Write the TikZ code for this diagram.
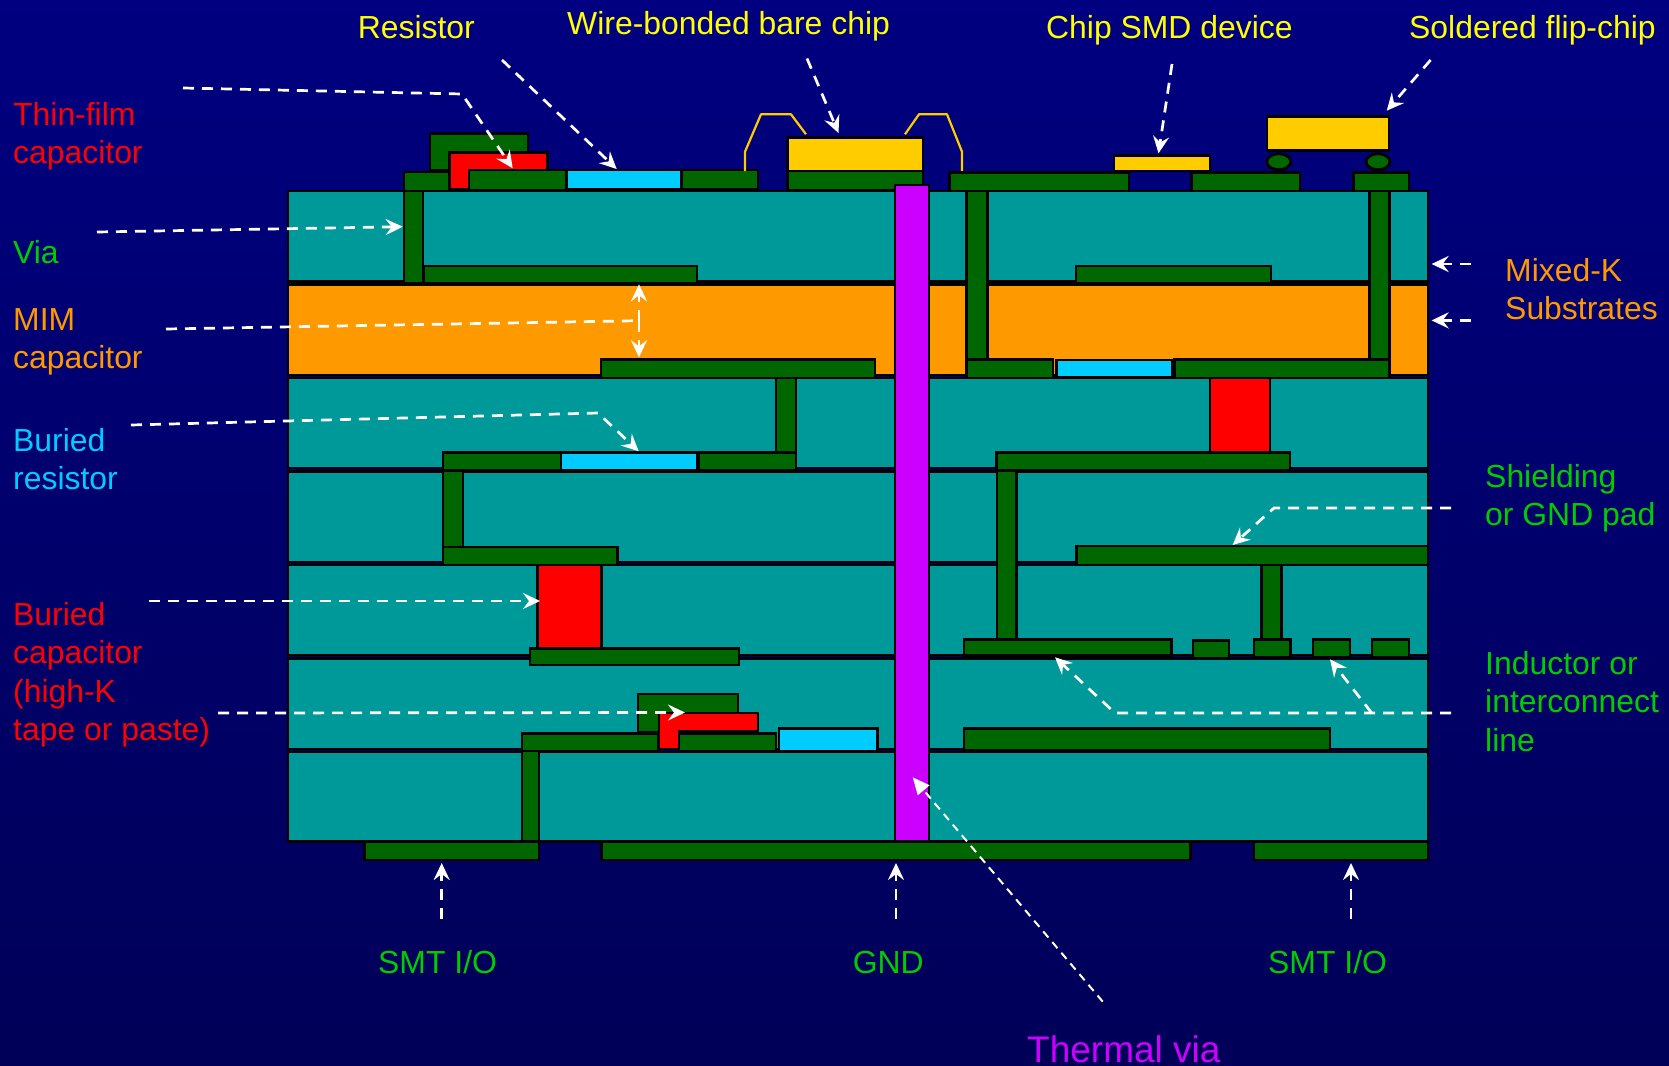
\documentclass[tikz,border=0pt]{standalone}
\usepackage{fontspec}
\setmainfont{Liberation Sans}
\usetikzlibrary{arrows.meta}
\definecolor{bgtop}{RGB}{0,0,128}
\definecolor{bgbot}{RGB}{0,0,88}
\definecolor{tealc}{RGB}{0,153,153}
\definecolor{orangec}{RGB}{255,153,0}
\definecolor{padc}{RGB}{0,102,0}
\definecolor{cyanc}{RGB}{0,204,255}
\definecolor{yellowc}{RGB}{255,204,0}
\definecolor{purplec}{RGB}{204,0,255}
\definecolor{labyellow}{RGB}{255,255,0}
\definecolor{labgreen}{RGB}{0,204,0}
\definecolor{labcyan}{RGB}{0,204,255}
\definecolor{labpurple}{RGB}{204,0,255}
\tikzset{
  part/.style={draw=black,line width=2.8pt,line join=miter},
  teallayer/.style={part,fill=tealc},
  orangelayer/.style={part,fill=orangec},
  pad/.style={part,fill=padc},
  redpart/.style={part,fill=red},
  cyanpart/.style={part,fill=cyanc},
  chip/.style={part,fill=yellowc},
  thermal/.style={part,fill=purplec},
  wirebond/.style={draw=yellowc,line width=2.2pt,line join=round},
  leader/.style={draw=white,line width=2.7pt,dash pattern=on 11pt off 8pt,
    -{Stealth[length=17pt,width=16pt,inset=6pt]}},
  leaderplain/.style={draw=white,line width=2.7pt,dash pattern=on 11pt off 8pt},
  thinleader/.style={draw=white,line width=2pt,dash pattern=on 8pt off 6pt,
    -{Stealth[length=17pt,width=15pt,inset=0pt]}},
  lab/.style={anchor=north west,inner sep=0pt,align=left,font=\fontsize{31.9}{38.5}\selectfont},
}
\begin{document}
\begin{tikzpicture}[x=1pt,y=-1pt]
\useasboundingbox (0,0) rectangle (1669,1065);
\shade[top color=bgtop,middle color=bgtop,bottom color=bgbot] (0,0) rectangle (1669,1065);

% substrate layers
\draw[teallayer] (288,191) rectangle (1428,281.5);
\draw[orangelayer] (288,284.5) rectangle (1428,375);
\draw[teallayer] (288,378) rectangle (1428,468);
\draw[teallayer] (288,471.5) rectangle (1428,562);
\draw[teallayer] (288,565) rectangle (1428,655);
\draw[teallayer] (288,658.5) rectangle (1428,749);
\draw[teallayer] (288,752) rectangle (1428,841.5);

% top surface, left
\draw[pad] (430,133.5) rectangle (528,170);
\draw[pad] (404,172) rectangle (450,191);
\draw[pad] (404,191) rectangle (423,283);
\draw[redpart] (449.5,152.5) -- (547.5,152.5) -- (547.5,170) -- (469,170) -- (469,189) -- (449.5,189) -- cycle;
\draw[pad] (469,170) rectangle (566.5,190.5);
\draw[cyanpart] (566.5,170) rectangle (681.5,189);
\draw[pad] (682,170) rectangle (758,189);
\draw[pad] (424,266) rectangle (697,283);

% wire bonded chip
\draw[wirebond] (745,171) -- (745,151.7) -- (761,114.3) -- (791,114.3) -- (806,134.3);
\draw[wirebond] (905,134.3) -- (919,114.3) -- (947,114.3) -- (962,151.7) -- (962,171);
\draw[chip] (787.5,137.3) rectangle (923,171);
\draw[pad] (787.5,171) rectangle (923,190);

% top surface, right
\draw[pad] (949.5,172.7) rectangle (1129,191);
\draw[pad] (1191.5,172.7) rectangle (1300,191);
\draw[pad] (1353.5,172.7) rectangle (1409,191);
\draw[chip] (1114,155.7) rectangle (1210,171);
\draw[chip] (1267,116.7) rectangle (1389,150.7);
\draw[pad] (1278.8,161.7) ellipse (12 and 8);
\draw[pad] (1378,161.7) ellipse (12 and 8);
\draw[pad] (966.5,191) rectangle (987.7,359.5);
\draw[pad] (1369.7,191) rectangle (1389.4,359.5);
\draw[pad] (1076,266) rectangle (1271,283);

% layer 2/3 interface
\draw[pad] (601,359.5) rectangle (875,378);
\draw[pad] (966.5,359.5) rectangle (1053,378);
\draw[cyanpart] (1056.5,360) rectangle (1172,377.5);
\draw[pad] (1174.5,359.5) rectangle (1389.4,378);
\draw[redpart] (1210,378) rectangle (1270,452.5);

% layer 3/4
\draw[pad] (776,378) rectangle (796,453);
\draw[pad] (443,452.5) rectangle (561,470.5);
\draw[cyanpart] (561,452.5) rectangle (697,470.5);
\draw[pad] (699,452.5) rectangle (796,470.5);
\draw[pad] (996.5,452.5) rectangle (1290,470.5);

% layer 4/5
\draw[pad] (443,471) rectangle (463,547);
\draw[pad] (443,547) rectangle (617.5,565);
\draw[pad] (1076.7,546) rectangle (1428,565);
\draw[redpart] (537.5,565) rectangle (601.5,649);
\draw[pad] (530,648.5) rectangle (739,665);
\draw[pad] (997,470.5) rectangle (1016.7,640);
\draw[pad] (1261.7,565) rectangle (1281.7,640);

% layer 5/6
\draw[pad] (964,639.5) rectangle (1171.7,655.5);
\draw[pad] (1193,640.5) rectangle (1229,658);
\draw[pad] (1254,639.5) rectangle (1290.7,657);
\draw[pad] (1313,639.5) rectangle (1350,657);
\draw[pad] (1372,639.5) rectangle (1409,657);

% layer 6/7
\draw[pad] (638,694) rectangle (738,732);
\draw[redpart] (659,713) -- (758,713) -- (758,731) -- (679,731) -- (679,749) -- (659,749) -- cycle;
\draw[pad] (522,733.5) rectangle (658,751);
\draw[pad] (679,733.5) rectangle (776,751);
\draw[cyanpart] (779,728.5) rectangle (877.5,751);
\draw[pad] (964,728.5) rectangle (1330,750.7);
\draw[pad] (522,751) rectangle (539,841.5);

% bottom pads
\draw[pad] (364.5,841.7) rectangle (539,860);
\draw[pad] (601.7,841.7) rectangle (1190.7,860);
\draw[pad] (1254,841.7) rectangle (1428,860);

% thermal via
\draw[thermal] (895,185) rectangle (929,841);

% leader coordinates
\coordinate (tfA) at (183,88);    \coordinate (tfB) at (462,94);    \coordinate (tfC) at (512.7,168.3);
\coordinate (reA) at (502,60);    \coordinate (reB) at (616.7,169);
\coordinate (wbA) at (807,58.5);  \coordinate (wbB) at (838.5,133);
\coordinate (smA) at (1172,64);   \coordinate (smB) at (1158.5,153.3);
\coordinate (fcA) at (1430.6,60); \coordinate (fcB) at (1386.7,110.7);
\coordinate (viA) at (97,232);    \coordinate (viB) at (402.7,226.7);
\coordinate (miA) at (166,329);   \coordinate (miB) at (639,320.7);
\coordinate (miU) at (639,284.3); \coordinate (miD) at (639,357.3);
\coordinate (brA) at (131,425);   \coordinate (brB) at (598,413);   \coordinate (brC) at (638.7,451.3);
\coordinate (bcA) at (149,601);   \coordinate (bcB) at (540,601);
\coordinate (hkA) at (218,713);   \coordinate (hkB) at (685,712.5);
\coordinate (mkA) at (1471,264);  \coordinate (mkB) at (1431.6,264);
\coordinate (mkC) at (1471,320.4);\coordinate (mkD) at (1431.6,320.4);
\coordinate (shA) at (1451,508);  \coordinate (shB) at (1274,508);  \coordinate (shC) at (1232.6,545);
\coordinate (inA) at (1451,713);  \coordinate (inB) at (1115,713);  \coordinate (inC) at (1055,657.3);
\coordinate (inD) at (1371.7,713);\coordinate (inE) at (1330,659.3);
\coordinate (s1A) at (441.7,918.6); \coordinate (s1B) at (441.7,863);
\coordinate (gnA) at (896,918.6);   \coordinate (gnB) at (896,863);
\coordinate (s2A) at (1351,918.6);  \coordinate (s2B) at (1351,863);
\coordinate (thA) at (1102.7,1001.6); \coordinate (thB) at (912.7,777.3);

% leaders
\draw[leader] (tfA) -- (tfB) -- (tfC);
\draw[leader] (reA) -- (reB);
\draw[leader] (wbA) -- (wbB);
\draw[leader] (smA) -- (smB);
\draw[leader] (fcA) -- (fcB);
\draw[leader] (viA) -- (viB);
\draw[leaderplain] (miA) -- (miB);
\draw[leader] (miB) -- (miU);
\draw[leader] (miB) -- (miD);
\draw[leader] (brA) -- (brB) -- (brC);
\draw[leader] (bcA) -- (bcB);
\draw[leader] (hkA) -- (hkB);
\draw[leader] (mkA) -- (mkB);
\draw[leader] (mkC) -- (mkD);
\draw[leader] (shA) -- (shB) -- (shC);
\draw[leader] (inA) -- (inB) -- (inC);
\draw[leader] (inD) -- (inE);
\draw[leader] (s1A) -- (s1B);
\draw[leader] (gnA) -- (gnB);
\draw[leader] (s2A) -- (s2B);
\draw[thinleader] (thA) -- (thB);

% labels
\node[lab,text=labyellow] (lres) at (357.6,15) {Resistor};
\node[lab,text=labyellow] (lwire) at (567,11) {Wire-bonded bare chip};
\node[lab,text=labyellow] (lsmd) at (1046,15) {Chip SMD device};
\node[lab,text=labyellow] (lflip) at (1409,15) {Soldered flip-chip};
\node[lab,text=red] (ltf) at (13,102) {Thin-film\\capacitor};
\node[lab,text=labgreen] (lvia) at (13,240) {Via};
\node[lab,text=orangec] (lmim) at (13,308) {MIM\\capacitor};
\node[lab,text=labcyan] (lbr) at (13,428) {Buried\\resistor};
\node[lab,text=red] (lbc) at (13,602) {Buried\\capacitor\\(high-K\\tape or paste)};
\node[lab,text=orangec] (lmk) at (1505,258) {Mixed-K\\Substrates};
\node[lab,text=labgreen] (lsh) at (1485,464) {Shielding\\or GND pad};
\node[lab,text=labgreen] (lin) at (1485,651) {Inductor or\\interconnect\\line};
\node[lab,text=labgreen] (ls1) at (378,950) {SMT I/O};
\node[lab,text=labgreen] (lgn) at (852.6,951) {GND};
\node[lab,text=labgreen] (ls2) at (1268,950) {SMT I/O};
\node[lab,text=labpurple,font=\fontsize{37}{44}\selectfont] (lth) at (1027,1035) {Thermal via};
\end{tikzpicture}
\end{document}
